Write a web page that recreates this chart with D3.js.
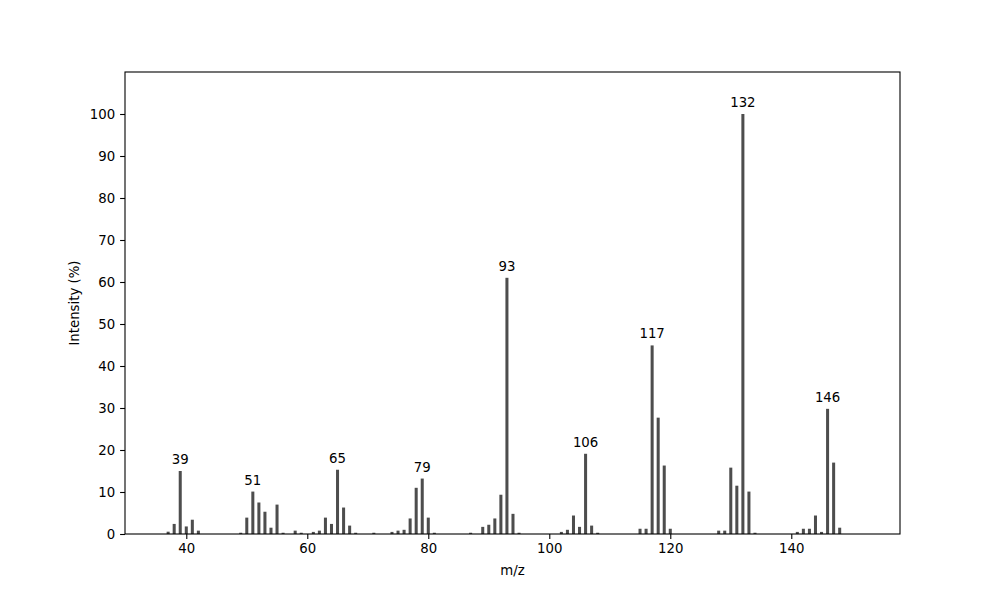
<!DOCTYPE html>
<html lang="en">
<head>
<meta charset="utf-8">
<title>Mass spectrum</title>
<script src="https://d3js.org/d3.v7.min.js"></script>
<style>
	body { margin: 0; background: #fff; }
	text { font-family: "DejaVu Sans", sans-serif; }
</style>
</head>
<body>
<script>
	// peaks
	var mzValues = [37, 38, 39, 40, 41, 42,
		49, 50, 51, 52, 53, 54, 55, 56, 58, 59,
		61, 62, 63, 64, 65, 66, 67, 68, 71,
		74, 75, 76, 77, 78, 79, 80, 81,
		87, 89, 90, 91, 92, 93, 94, 95,
		102, 103, 104, 105, 106, 107, 108,
		115, 116, 117, 118, 119, 120,
		128, 129, 130, 131, 132, 133, 134,
		141, 142, 143, 144, 145, 146, 147, 148];
	var intensities = [0.55, 2.4, 15, 1.8, 3.4, 0.8,
		0.3, 3.9, 10.1, 7.5, 5.3, 1.5, 7.0, 0.3, 0.8, 0.3,
		0.5, 0.8, 3.9, 2.4, 15.3, 6.3, 2.0, 0.3, 0.3,
		0.5, 0.8, 1.0, 3.7, 11.0, 13.2, 3.9, 0.3,
		0.3, 1.7, 2.2, 3.7, 9.35, 61, 4.8, 0.3,
		0.5, 1.0, 4.4, 1.7, 19.1, 2.0, 0.3,
		1.25, 1.25, 44.9, 27.7, 16.3, 1.25,
		0.8, 0.8, 15.8, 11.5, 100, 10.1, 0.3,
		0.5, 1.25, 1.25, 4.4, 0.5, 29.8, 17, 1.5];
	var labelledPeaks = [39, 51, 65, 79, 93, 106, 117, 132, 146];
	var xTicks = [40, 60, 80, 100, 120, 140];
	var yTicks = [0, 10, 20, 30, 40, 50, 60, 70, 80, 90, 100];

	var svgWidth = 1000,
		svgHeight = 600,
		margin = {top: 72, right: 100, bottom: 66, left: 125},
		width = svgWidth - margin.left - margin.right,
		height = svgHeight - margin.top - margin.bottom;

	var peaks = mzValues.map(function(m, i) { return {mz: m, value: intensities[i]}; });

	var svg = d3.select("body").append("svg")
		.attr("width", svgWidth)
		.attr("height", svgHeight);
	var g = svg.append("g").attr("transform", "translate(" + margin.left + "," + margin.top + ")");

	var x = d3.scaleLinear().domain([29.87, 157.97]).range([0, width]);
	var y = d3.scaleLinear().domain([0, 110]).range([height, 0]);
	var barWidth = x(0.5) - x(0);

	g.selectAll(".bar")
		.data(peaks)
		.enter().append("rect")
		.attr("class", "bar")
		.attr("x", function(d) { return x(d.mz) - barWidth / 2; })
		.attr("y", function(d) { return y(d.value); })
		.attr("width", barWidth)
		.attr("height", function(d) { return y(0) - y(d.value); })
		.attr("fill", "#4d4d4d");

	// peak labels
	g.selectAll(".peak-label")
		.data(peaks.filter(function(d) { return labelledPeaks.indexOf(d.mz) >= 0; }))
		.enter().append("text")
		.attr("class", "peak-label")
		.attr("x", function(d) { return x(d.mz); })
		.attr("y", function(d) { return y(d.value) - 7; })
		.attr("text-anchor", "middle")
		.attr("font-size", "13.3px")
		.text(function(d) { return d.mz; });

	var xAxis = g.append("g")
		.attr("transform", "translate(0," + height + ")")
		.call(d3.axisBottom(x).tickValues(xTicks).tickSize(4.9).tickPadding(4.9));
	var yAxis = g.append("g")
		.call(d3.axisLeft(y).tickValues(yTicks).tickSize(4.9).tickPadding(4.9));

	[xAxis, yAxis].forEach(function(a) {
		a.select(".domain").remove();
		a.selectAll("line").attr("stroke", "#000").attr("stroke-width", 1.1);
		a.selectAll("text").attr("font-family", "DejaVu Sans, sans-serif").attr("font-size", "13.3px").attr("fill", "#000");
	});

	// frame
	g.append("rect")
		.attr("width", width)
		.attr("height", height)
		.attr("fill", "none")
		.attr("stroke", "#000")
		.attr("stroke-width", 1.1);

	svg.append("text")
		.attr("x", margin.left + width / 2)
		.attr("y", 575)
		.attr("text-anchor", "middle")
		.attr("font-size", "13.3px")
		.text("m/z");

	svg.append("text")
		.attr("transform", "translate(79," + (margin.top + height / 2) + ") rotate(-90)")
		.attr("text-anchor", "middle")
		.attr("font-size", "13.3px")
		.text("Intensity (%)");
</script>
</body>
</html>
